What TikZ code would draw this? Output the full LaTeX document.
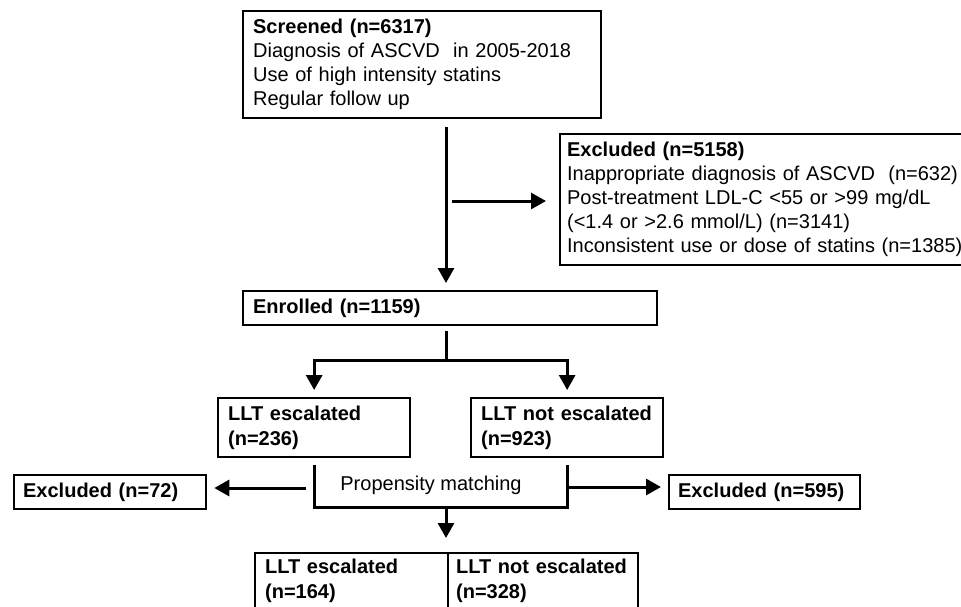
\documentclass[tikz,border=0pt]{standalone}
\usepackage{fontspec}
\setmainfont{Liberation Sans}
\usetikzlibrary{arrows.meta}
\begin{document}
\begin{tikzpicture}[x=1pt,y=-1pt,
  box/.style={draw, line width=2.3pt, anchor=north west, align=left, inner xsep=10pt, inner ysep=0pt, font=\fontsize{20}{24}\selectfont},
  twoline/.style={font=\fontsize{20}{25.5}\selectfont\bfseries},
  conn/.style={line width=3pt, line join=miter},
  arr/.style={conn, -{Triangle[length=15pt,width=16pt]}},
]
\useasboundingbox (0,0) rectangle (961,606);
\clip (0,0) rectangle (961,606);

% boxes
\node[box, text width=338pt, minimum height=107pt] (scr) at (242,10)
  {\textbf{Screened (n=6317)}\\Diagnosis of ASCVD~ in 2005-2018\\Use of high intensity statins\\Regular follow up};
\node[box, inner xsep=7pt, text width=400pt, minimum height=131pt] (exc) at (559,133)
  {\textbf{Excluded (n=5158)}\\Inappropriate diagnosis of ASCVD~ (n=632)\\Post-treatment LDL-C <55 or >99 mg/dL\\(<1.4 or >2.6 mmol/L) (n=3141)\\Inconsistent use or dose of statins (n=1385)};
\node[box, text width=394pt, minimum height=34pt] (enr) at (242,290) {\textbf{Enrolled (n=1159)}};
\node[box, twoline, text width=172pt, minimum height=59pt] (esc) at (217,397) {LLT escalated\\(n=236)};
\node[box, twoline, text width=172pt, minimum height=59pt] (nesc) at (470,397) {LLT not escalated\\(n=923)};
\node[box, inner xsep=9pt, text width=174pt, minimum height=34pt] (ex72) at (13,474) {\textbf{Excluded (n=72)}};
\node[box, inner xsep=9pt, text width=173pt, minimum height=34pt] (ex595) at (668,474) {\textbf{Excluded (n=595)}};
\node[font=\fontsize{20}{24}\selectfont] (pm) at (431,485) {Propensity matching};
\node[box, twoline, inner xsep=10pt, inner ysep=5.5pt, text width=173pt, anchor=north west] (fl) at (254,552) {LLT escalated\\(n=164)};
\node[box, twoline, inner xsep=8pt, inner ysep=5.5pt, text width=174pt, anchor=north west] (fr) at (447,552) {LLT not escalated\\(n=328)};

% helper coordinates
\coordinate (sp) at (446,0);
\coordinate (j1) at (446,201);
\coordinate (split) at (446,360);
\coordinate (pmb) at (0,507);
\coordinate (pml) at (313,488);
\coordinate (pmr) at (566,487);

% connectors
\draw[arr, shorten <=8pt, shorten >=7pt] (sp |- scr.south) -- (sp |- enr.north);
\draw[arr, shorten <=6pt, shorten >=13pt] (j1) -- (j1 -| exc.west);
\draw[conn, shorten <=5pt] (sp |- enr.south) -- (split);
\draw[arr, shorten >=7pt] (split) -| (esc.north);
\draw[arr, shorten >=7pt] (split) -| (nesc.north);
\draw[conn] ([yshift=-7pt]esc.south) -- (esc.south |- pmb) -- (nesc.south |- pmb) -- ([yshift=-7pt]nesc.south);
\draw[arr, shorten <=7pt, shorten >=7pt] (pml) -- (pml -| ex72.east);
\draw[arr, shorten >=7pt] (pmr) -- (pmr -| ex595.west);
\draw[arr, shorten >=14pt] (sp |- pmb) -- (sp |- fl.north);
\end{tikzpicture}
\end{document}
